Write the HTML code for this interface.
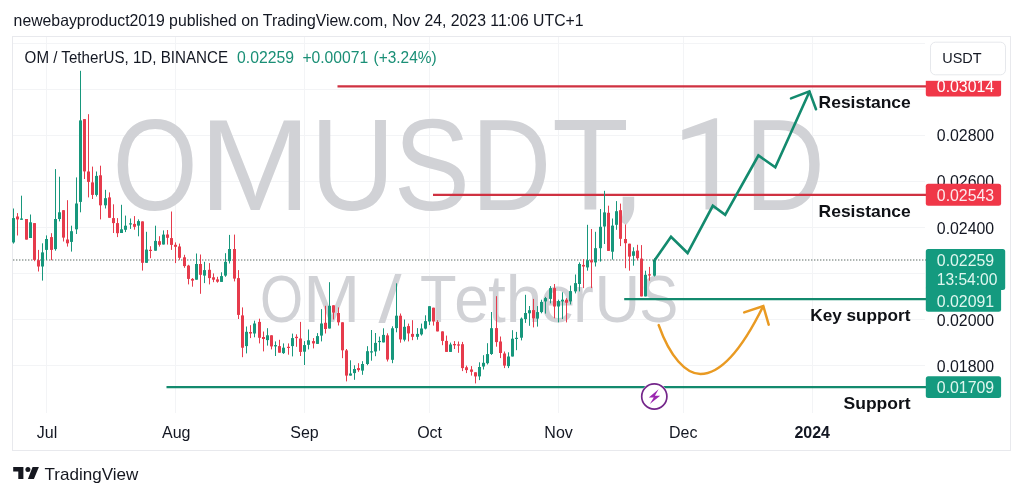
<!DOCTYPE html>
<html><head><meta charset="utf-8"><title>OMUSDT 1D</title>
<style>html,body{margin:0;padding:0;background:#fff;}body{width:1024px;height:496px;overflow:hidden;font-family:"Liberation Sans",sans-serif;}svg{display:block;will-change:transform;}text{font-family:"Liberation Sans",sans-serif;}</style>
</head><body>
<svg width="1024" height="496" viewBox="0 0 1024 496">
<rect x="0" y="0" width="1024" height="496" fill="#ffffff"/>
<rect x="12.5" y="36.5" width="998" height="414" fill="#ffffff" stroke="#e8e9ed" stroke-width="1"/>
<g stroke="#f3f4f6" stroke-width="1" shape-rendering="crispEdges">
<line x1="13" y1="43.5" x2="925" y2="43.5"/>
<line x1="13" y1="89.5" x2="925" y2="89.5"/>
<line x1="13" y1="135.5" x2="925" y2="135.5"/>
<line x1="13" y1="181.5" x2="925" y2="181.5"/>
<line x1="13" y1="227.5" x2="925" y2="227.5"/>
<line x1="13" y1="273.5" x2="925" y2="273.5"/>
<line x1="13" y1="319.5" x2="925" y2="319.5"/>
<line x1="13" y1="365.5" x2="925" y2="365.5"/>
<line x1="46.5" y1="37" x2="46.5" y2="413"/>
<line x1="175.5" y1="37" x2="175.5" y2="413"/>
<line x1="304.5" y1="37" x2="304.5" y2="413"/>
<line x1="429.5" y1="37" x2="429.5" y2="413"/>
<line x1="558.5" y1="37" x2="558.5" y2="413"/>
<line x1="683.5" y1="37" x2="683.5" y2="413"/>
<line x1="812.5" y1="37" x2="812.5" y2="413"/>
</g>
<g fill="#d1d2d6" id="wm1">
<text transform="translate(112.48 209.50) scale(0.8698 1.0368)" font-size="126">O</text>
<text transform="translate(198.93 209.50) scale(1.0671 1.0368)" font-size="126">M</text>
<text transform="translate(310.29 209.50) scale(0.9310 1.0368)" font-size="126">U</text>
<text transform="translate(393.75 209.50) scale(0.9083 1.0368)" font-size="126">S</text>
<text transform="translate(471.30 209.50) scale(0.8800 1.0368)" font-size="126">D</text>
<text transform="translate(552.00 209.50) scale(0.9986 1.0368)" font-size="126">T</text>
<text transform="translate(744.69 209.50) scale(0.8813 1.0368)" font-size="126">D</text>
<path d="M717.1 118.2 V209.5 H705.5 V133.2 L682.3 139.9 V130 L714.5 118.2 Z"/>
<path d="M622.7 196.8 H634.2 V206.5 C634.2 213.5 630.5 220.5 626 225 L620.3 221.2 C623.2 216.5 622.7 211 622.7 206.5 Z"/>
</g>
<g fill="#d1d2d6" id="wm2">
<text transform="translate(259.90 321.90) scale(0.8659 1.0432)" font-size="64">O</text>
<text transform="translate(303.36 321.90) scale(1.0674 1.0432)" font-size="64">M</text>
<text transform="translate(378.40 321.90) scale(1.2944 1.0432)" font-size="64">/</text>
<text transform="translate(420.06 321.90) scale(0.9351 1.0432)" font-size="64">T</text>
<text transform="translate(454.27 321.90) scale(0.9767 1.0432)" font-size="64">e</text>
<text transform="translate(488.00 321.90) scale(1.0000 1.0432)" font-size="64">t</text>
<text transform="translate(505.70 321.90) scale(1.0250 1.0432)" font-size="64">h</text>
<text transform="translate(540.35 321.90) scale(0.9833 1.0432)" font-size="64">e</text>
<text transform="translate(573.35 321.90) scale(0.9625 1.0432)" font-size="64">r</text>
<text transform="translate(594.46 321.90) scale(0.9889 1.0432)" font-size="64">U</text>
<text transform="translate(639.26 321.90) scale(0.9135 1.0432)" font-size="64">S</text>
</g>
<line x1="13" y1="260" x2="926" y2="260" stroke="#929c98" stroke-width="1.3" stroke-dasharray="1.4 1.6"/>
<line x1="337.5" y1="86.3" x2="928" y2="86.3" stroke="#cf3141" stroke-width="2.2"/>
<line x1="433" y1="194.8" x2="928" y2="194.8" stroke="#cf3141" stroke-width="2.2"/>
<line x1="624.2" y1="299.1" x2="928" y2="299.1" stroke="#138a6e" stroke-width="2.2"/>
<line x1="166.5" y1="387.2" x2="928" y2="387.2" stroke="#138a6e" stroke-width="2.2"/>
<g id="candles">
<path d="M13.50 208.5V243.6" stroke="#17977c" stroke-width="1" fill="none"/>
<rect x="12.00" y="218.1" width="3" height="24.3" fill="#17977c"/>
<path d="M17.50 213.1V235.5" stroke="#e63b4c" stroke-width="1" fill="none"/>
<rect x="16.00" y="216.5" width="3" height="2.9" fill="#e63b4c"/>
<path d="M21.50 195.7V219.8" stroke="#17977c" stroke-width="1" fill="none"/>
<rect x="20.00" y="218.5" width="3" height="1.3" fill="#17977c"/>
<path d="M26.50 219.0V239.6" stroke="#e63b4c" stroke-width="1" fill="none"/>
<rect x="25.00" y="219.0" width="3" height="20.6" fill="#e63b4c"/>
<path d="M30.50 214.5V238.0" stroke="#17977c" stroke-width="1" fill="none"/>
<rect x="29.00" y="222.3" width="3" height="15.7" fill="#17977c"/>
<path d="M34.50 223.1V261.2" stroke="#e63b4c" stroke-width="1" fill="none"/>
<rect x="33.00" y="223.1" width="3" height="36.8" fill="#e63b4c"/>
<path d="M38.50 249.9V271.5" stroke="#e63b4c" stroke-width="1" fill="none"/>
<rect x="37.00" y="260.2" width="3" height="6.3" fill="#e63b4c"/>
<path d="M42.50 243.3V280.6" stroke="#17977c" stroke-width="1" fill="none"/>
<rect x="41.00" y="252.4" width="3" height="14.1" fill="#17977c"/>
<path d="M46.50 235.4V259.9" stroke="#17977c" stroke-width="1" fill="none"/>
<rect x="45.00" y="239.0" width="3" height="10.9" fill="#17977c"/>
<path d="M51.50 233.2V260.2" stroke="#e63b4c" stroke-width="1" fill="none"/>
<rect x="50.00" y="237.1" width="3" height="12.8" fill="#e63b4c"/>
<path d="M55.50 169.1V250.7" stroke="#17977c" stroke-width="1" fill="none"/>
<rect x="54.00" y="219.0" width="3" height="30.1" fill="#17977c"/>
<path d="M59.50 176.7V221.4" stroke="#17977c" stroke-width="1" fill="none"/>
<rect x="58.00" y="212.3" width="3" height="6.7" fill="#17977c"/>
<path d="M63.50 210.2V241.5" stroke="#e63b4c" stroke-width="1" fill="none"/>
<rect x="62.00" y="210.2" width="3" height="27.4" fill="#e63b4c"/>
<path d="M67.50 200.2V246.6" stroke="#e63b4c" stroke-width="1" fill="none"/>
<rect x="66.00" y="239.5" width="3" height="3.8" fill="#e63b4c"/>
<path d="M71.50 225.7V251.6" stroke="#17977c" stroke-width="1" fill="none"/>
<rect x="70.00" y="231.2" width="3" height="10.7" fill="#17977c"/>
<path d="M76.50 177.4V234.0" stroke="#17977c" stroke-width="1" fill="none"/>
<rect x="75.00" y="203.5" width="3" height="25.8" fill="#17977c"/>
<path d="M80.50 70.8V212.3" stroke="#17977c" stroke-width="1" fill="none"/>
<rect x="79.00" y="120.4" width="3" height="81.5" fill="#17977c"/>
<path d="M84.50 119.0V179.0" stroke="#e63b4c" stroke-width="1" fill="none"/>
<rect x="83.00" y="119.1" width="3" height="52.3" fill="#e63b4c"/>
<path d="M88.50 114.2V197.4" stroke="#e63b4c" stroke-width="1" fill="none"/>
<rect x="87.00" y="171.5" width="3" height="10.4" fill="#e63b4c"/>
<path d="M92.50 166.6V199.0" stroke="#e63b4c" stroke-width="1" fill="none"/>
<rect x="91.00" y="182.4" width="3" height="12.5" fill="#e63b4c"/>
<path d="M96.50 171.5V196.5" stroke="#17977c" stroke-width="1" fill="none"/>
<rect x="95.00" y="175.9" width="3" height="19.0" fill="#17977c"/>
<path d="M100.50 165.7V219.4" stroke="#e63b4c" stroke-width="1" fill="none"/>
<rect x="99.00" y="175.3" width="3" height="30.0" fill="#e63b4c"/>
<path d="M105.50 189.8V208.5" stroke="#17977c" stroke-width="1" fill="none"/>
<rect x="104.00" y="198.2" width="3" height="7.1" fill="#17977c"/>
<path d="M109.50 192.4V217.8" stroke="#e63b4c" stroke-width="1" fill="none"/>
<rect x="108.00" y="197.4" width="3" height="20.4" fill="#e63b4c"/>
<path d="M113.50 204.3V233.0" stroke="#e63b4c" stroke-width="1" fill="none"/>
<rect x="112.00" y="218.1" width="3" height="5.0" fill="#e63b4c"/>
<path d="M117.50 218.1V237.1" stroke="#e63b4c" stroke-width="1" fill="none"/>
<rect x="116.00" y="223.1" width="3" height="10.1" fill="#e63b4c"/>
<path d="M121.50 204.8V233.0" stroke="#17977c" stroke-width="1" fill="none"/>
<rect x="120.00" y="229.3" width="3" height="3.7" fill="#17977c"/>
<path d="M125.50 215.6V232.1" stroke="#17977c" stroke-width="1" fill="none"/>
<rect x="124.00" y="225.7" width="3" height="4.1" fill="#17977c"/>
<path d="M130.50 218.5V228.9" stroke="#17977c" stroke-width="1" fill="none"/>
<rect x="129.00" y="223.3" width="3" height="1.2" fill="#17977c"/>
<path d="M134.50 216.1V229.7" stroke="#e63b4c" stroke-width="1" fill="none"/>
<rect x="133.00" y="223.9" width="3" height="2.9" fill="#e63b4c"/>
<path d="M138.50 219.4V236.3" stroke="#17977c" stroke-width="1" fill="none"/>
<rect x="137.00" y="221.1" width="3" height="4.5" fill="#17977c"/>
<path d="M142.50 221.4V270.6" stroke="#e63b4c" stroke-width="1" fill="none"/>
<rect x="141.00" y="221.4" width="3" height="41.4" fill="#e63b4c"/>
<path d="M146.50 231.8V262.8" stroke="#17977c" stroke-width="1" fill="none"/>
<rect x="145.00" y="249.6" width="3" height="13.2" fill="#17977c"/>
<path d="M150.50 246.2V258.2" stroke="#e63b4c" stroke-width="1" fill="none"/>
<rect x="149.00" y="249.8" width="3" height="1.2" fill="#e63b4c"/>
<path d="M155.50 225.7V250.7" stroke="#17977c" stroke-width="1" fill="none"/>
<rect x="154.00" y="240.9" width="3" height="9.8" fill="#17977c"/>
<path d="M159.50 236.2V246.6" stroke="#e63b4c" stroke-width="1" fill="none"/>
<rect x="158.00" y="241.2" width="3" height="3.6" fill="#e63b4c"/>
<path d="M163.50 230.4V244.5" stroke="#17977c" stroke-width="1" fill="none"/>
<rect x="162.00" y="234.6" width="3" height="9.9" fill="#17977c"/>
<path d="M167.50 230.0V244.6" stroke="#e63b4c" stroke-width="1" fill="none"/>
<rect x="166.00" y="234.5" width="3" height="3.3" fill="#e63b4c"/>
<path d="M171.50 211.5V249.9" stroke="#e63b4c" stroke-width="1" fill="none"/>
<rect x="170.00" y="238.1" width="3" height="6.8" fill="#e63b4c"/>
<path d="M175.50 242.4V263.1" stroke="#e63b4c" stroke-width="1" fill="none"/>
<rect x="174.00" y="244.8" width="3" height="2.0" fill="#e63b4c"/>
<path d="M179.50 243.6V259.8" stroke="#e63b4c" stroke-width="1" fill="none"/>
<rect x="178.00" y="246.5" width="3" height="11.3" fill="#e63b4c"/>
<path d="M184.50 254.8V267.8" stroke="#e63b4c" stroke-width="1" fill="none"/>
<rect x="183.00" y="257.3" width="3" height="8.8" fill="#e63b4c"/>
<path d="M188.50 264.8V284.4" stroke="#e63b4c" stroke-width="1" fill="none"/>
<rect x="187.00" y="265.6" width="3" height="13.3" fill="#e63b4c"/>
<path d="M192.50 278.1V286.7" stroke="#e63b4c" stroke-width="1" fill="none"/>
<rect x="191.00" y="278.9" width="3" height="1.7" fill="#e63b4c"/>
<path d="M196.50 253.5V279.7" stroke="#17977c" stroke-width="1" fill="none"/>
<rect x="195.00" y="264.0" width="3" height="15.7" fill="#17977c"/>
<path d="M200.50 254.5V293.8" stroke="#e63b4c" stroke-width="1" fill="none"/>
<rect x="199.00" y="264.0" width="3" height="10.8" fill="#e63b4c"/>
<path d="M204.50 261.8V283.1" stroke="#17977c" stroke-width="1" fill="none"/>
<rect x="203.00" y="270.1" width="3" height="5.5" fill="#17977c"/>
<path d="M209.50 263.1V284.4" stroke="#e63b4c" stroke-width="1" fill="none"/>
<rect x="208.00" y="269.8" width="3" height="8.3" fill="#e63b4c"/>
<path d="M213.50 273.4V282.2" stroke="#e63b4c" stroke-width="1" fill="none"/>
<rect x="212.00" y="277.3" width="3" height="2.4" fill="#e63b4c"/>
<path d="M217.50 276.8V282.7" stroke="#e63b4c" stroke-width="1" fill="none"/>
<rect x="216.00" y="279.4" width="3" height="2.3" fill="#e63b4c"/>
<path d="M221.50 272.3V281.9" stroke="#17977c" stroke-width="1" fill="none"/>
<rect x="220.00" y="276.1" width="3" height="5.8" fill="#17977c"/>
<path d="M225.50 253.2V276.8" stroke="#17977c" stroke-width="1" fill="none"/>
<rect x="224.00" y="261.8" width="3" height="13.8" fill="#17977c"/>
<path d="M229.50 234.9V263.5" stroke="#17977c" stroke-width="1" fill="none"/>
<rect x="228.00" y="249.0" width="3" height="12.1" fill="#17977c"/>
<path d="M234.50 234.6V281.4" stroke="#e63b4c" stroke-width="1" fill="none"/>
<rect x="233.00" y="249.0" width="3" height="29.6" fill="#e63b4c"/>
<path d="M238.50 270.1V319.0" stroke="#e63b4c" stroke-width="1" fill="none"/>
<rect x="237.00" y="278.1" width="3" height="36.8" fill="#e63b4c"/>
<path d="M242.50 307.4V357.2" stroke="#e63b4c" stroke-width="1" fill="none"/>
<rect x="241.00" y="315.4" width="3" height="32.3" fill="#e63b4c"/>
<path d="M246.50 326.5V353.4" stroke="#17977c" stroke-width="1" fill="none"/>
<rect x="245.00" y="331.8" width="3" height="14.3" fill="#17977c"/>
<path d="M250.50 325.2V338.1" stroke="#e63b4c" stroke-width="1" fill="none"/>
<rect x="249.00" y="332.0" width="3" height="1.5" fill="#e63b4c"/>
<path d="M254.50 320.7V337.3" stroke="#17977c" stroke-width="1" fill="none"/>
<rect x="253.00" y="323.5" width="3" height="10.0" fill="#17977c"/>
<path d="M259.50 318.7V343.4" stroke="#e63b4c" stroke-width="1" fill="none"/>
<rect x="258.00" y="321.9" width="3" height="15.9" fill="#e63b4c"/>
<path d="M263.50 331.5V351.4" stroke="#e63b4c" stroke-width="1" fill="none"/>
<rect x="262.00" y="337.0" width="3" height="2.0" fill="#e63b4c"/>
<path d="M267.50 328.2V345.6" stroke="#17977c" stroke-width="1" fill="none"/>
<rect x="266.00" y="335.3" width="3" height="4.8" fill="#17977c"/>
<path d="M271.50 335.3V349.4" stroke="#e63b4c" stroke-width="1" fill="none"/>
<rect x="270.00" y="335.3" width="3" height="11.1" fill="#e63b4c"/>
<path d="M275.50 341.4V356.0" stroke="#17977c" stroke-width="1" fill="none"/>
<rect x="274.00" y="345.1" width="3" height="1.3" fill="#17977c"/>
<path d="M279.50 339.8V352.7" stroke="#e63b4c" stroke-width="1" fill="none"/>
<rect x="278.00" y="346.1" width="3" height="6.6" fill="#e63b4c"/>
<path d="M283.50 343.4V353.9" stroke="#17977c" stroke-width="1" fill="none"/>
<rect x="282.00" y="347.7" width="3" height="5.4" fill="#17977c"/>
<path d="M288.50 343.4V354.7" stroke="#e63b4c" stroke-width="1" fill="none"/>
<rect x="287.00" y="346.8" width="3" height="1.2" fill="#e63b4c"/>
<path d="M292.50 333.6V356.4" stroke="#17977c" stroke-width="1" fill="none"/>
<rect x="291.00" y="338.1" width="3" height="8.0" fill="#17977c"/>
<path d="M296.50 334.3V346.8" stroke="#e63b4c" stroke-width="1" fill="none"/>
<rect x="295.00" y="336.8" width="3" height="1.3" fill="#e63b4c"/>
<path d="M300.50 321.9V356.0" stroke="#e63b4c" stroke-width="1" fill="none"/>
<rect x="299.00" y="338.5" width="3" height="13.4" fill="#e63b4c"/>
<path d="M304.50 341.1V365.0" stroke="#17977c" stroke-width="1" fill="none"/>
<rect x="303.00" y="345.1" width="3" height="6.6" fill="#17977c"/>
<path d="M308.50 329.5V349.4" stroke="#17977c" stroke-width="1" fill="none"/>
<rect x="307.00" y="340.3" width="3" height="4.5" fill="#17977c"/>
<path d="M313.50 338.1V348.4" stroke="#e63b4c" stroke-width="1" fill="none"/>
<rect x="312.00" y="341.1" width="3" height="2.3" fill="#e63b4c"/>
<path d="M317.50 333.1V343.9" stroke="#17977c" stroke-width="1" fill="none"/>
<rect x="316.00" y="336.1" width="3" height="7.8" fill="#17977c"/>
<path d="M321.50 309.1V341.4" stroke="#17977c" stroke-width="1" fill="none"/>
<rect x="320.00" y="323.5" width="3" height="12.1" fill="#17977c"/>
<path d="M325.50 305.8V333.5" stroke="#e63b4c" stroke-width="1" fill="none"/>
<rect x="324.00" y="322.8" width="3" height="6.2" fill="#e63b4c"/>
<path d="M329.50 282.2V328.5" stroke="#17977c" stroke-width="1" fill="none"/>
<rect x="328.00" y="305.8" width="3" height="22.7" fill="#17977c"/>
<path d="M333.50 305.3V319.5" stroke="#e63b4c" stroke-width="1" fill="none"/>
<rect x="332.00" y="305.3" width="3" height="7.3" fill="#e63b4c"/>
<path d="M338.50 307.4V325.5" stroke="#e63b4c" stroke-width="1" fill="none"/>
<rect x="337.00" y="313.0" width="3" height="9.3" fill="#e63b4c"/>
<path d="M342.50 322.3V358.2" stroke="#e63b4c" stroke-width="1" fill="none"/>
<rect x="341.00" y="322.3" width="3" height="28.0" fill="#e63b4c"/>
<path d="M346.50 349.0V381.4" stroke="#e63b4c" stroke-width="1" fill="none"/>
<rect x="345.00" y="350.4" width="3" height="25.2" fill="#e63b4c"/>
<path d="M350.50 360.3V375.6" stroke="#17977c" stroke-width="1" fill="none"/>
<rect x="349.00" y="373.5" width="3" height="2.1" fill="#17977c"/>
<path d="M354.50 365.3V379.8" stroke="#17977c" stroke-width="1" fill="none"/>
<rect x="353.00" y="369.0" width="3" height="4.1" fill="#17977c"/>
<path d="M358.50 363.2V371.8" stroke="#e63b4c" stroke-width="1" fill="none"/>
<rect x="357.00" y="368.1" width="3" height="2.0" fill="#e63b4c"/>
<path d="M362.50 361.2V374.8" stroke="#17977c" stroke-width="1" fill="none"/>
<rect x="361.00" y="364.0" width="3" height="6.6" fill="#17977c"/>
<path d="M367.50 346.2V365.2" stroke="#17977c" stroke-width="1" fill="none"/>
<rect x="366.00" y="351.2" width="3" height="12.8" fill="#17977c"/>
<path d="M371.50 330.0V360.7" stroke="#17977c" stroke-width="1" fill="none"/>
<rect x="370.00" y="351.3" width="3" height="1.2" fill="#17977c"/>
<path d="M375.50 333.0V356.2" stroke="#17977c" stroke-width="1" fill="none"/>
<rect x="374.00" y="342.9" width="3" height="8.6" fill="#17977c"/>
<path d="M379.50 336.6V350.7" stroke="#17977c" stroke-width="1" fill="none"/>
<rect x="378.00" y="340.9" width="3" height="1.2" fill="#17977c"/>
<path d="M383.50 328.3V342.4" stroke="#17977c" stroke-width="1" fill="none"/>
<rect x="382.00" y="334.9" width="3" height="7.5" fill="#17977c"/>
<path d="M387.50 333.3V361.5" stroke="#e63b4c" stroke-width="1" fill="none"/>
<rect x="386.00" y="335.4" width="3" height="24.1" fill="#e63b4c"/>
<path d="M392.50 326.3V363.2" stroke="#17977c" stroke-width="1" fill="none"/>
<rect x="391.00" y="328.3" width="3" height="31.5" fill="#17977c"/>
<path d="M396.50 283.3V332.3" stroke="#17977c" stroke-width="1" fill="none"/>
<rect x="395.00" y="315.7" width="3" height="12.4" fill="#17977c"/>
<path d="M400.50 313.5V342.7" stroke="#e63b4c" stroke-width="1" fill="none"/>
<rect x="399.00" y="315.7" width="3" height="23.7" fill="#e63b4c"/>
<path d="M404.50 319.5V341.4" stroke="#17977c" stroke-width="1" fill="none"/>
<rect x="403.00" y="326.8" width="3" height="12.9" fill="#17977c"/>
<path d="M408.50 323.6V341.4" stroke="#e63b4c" stroke-width="1" fill="none"/>
<rect x="407.00" y="326.1" width="3" height="7.3" fill="#e63b4c"/>
<path d="M412.50 320.2V340.2" stroke="#e63b4c" stroke-width="1" fill="none"/>
<rect x="411.00" y="333.9" width="3" height="2.9" fill="#e63b4c"/>
<path d="M417.50 328.1V339.7" stroke="#17977c" stroke-width="1" fill="none"/>
<rect x="416.00" y="333.9" width="3" height="2.9" fill="#17977c"/>
<path d="M421.50 323.6V335.6" stroke="#17977c" stroke-width="1" fill="none"/>
<rect x="420.00" y="328.5" width="3" height="5.9" fill="#17977c"/>
<path d="M425.50 315.3V329.4" stroke="#17977c" stroke-width="1" fill="none"/>
<rect x="424.00" y="321.1" width="3" height="7.5" fill="#17977c"/>
<path d="M429.50 306.2V325.1" stroke="#17977c" stroke-width="1" fill="none"/>
<rect x="428.00" y="306.2" width="3" height="15.3" fill="#17977c"/>
<path d="M433.50 307.7V325.6" stroke="#e63b4c" stroke-width="1" fill="none"/>
<rect x="432.00" y="307.7" width="3" height="13.8" fill="#e63b4c"/>
<path d="M437.50 320.2V331.4" stroke="#e63b4c" stroke-width="1" fill="none"/>
<rect x="436.00" y="322.0" width="3" height="9.4" fill="#e63b4c"/>
<path d="M442.50 331.4V345.2" stroke="#e63b4c" stroke-width="1" fill="none"/>
<rect x="441.00" y="331.4" width="3" height="9.5" fill="#e63b4c"/>
<path d="M446.50 335.6V351.9" stroke="#e63b4c" stroke-width="1" fill="none"/>
<rect x="445.00" y="340.9" width="3" height="11.0" fill="#e63b4c"/>
<path d="M450.50 342.6V351.9" stroke="#17977c" stroke-width="1" fill="none"/>
<rect x="449.00" y="344.5" width="3" height="7.4" fill="#17977c"/>
<path d="M454.50 341.1V349.0" stroke="#e63b4c" stroke-width="1" fill="none"/>
<rect x="453.00" y="344.0" width="3" height="1.3" fill="#e63b4c"/>
<path d="M458.50 341.5V352.8" stroke="#e63b4c" stroke-width="1" fill="none"/>
<rect x="457.00" y="344.4" width="3" height="1.2" fill="#e63b4c"/>
<path d="M462.50 341.9V371.1" stroke="#e63b4c" stroke-width="1" fill="none"/>
<rect x="461.00" y="344.2" width="3" height="23.9" fill="#e63b4c"/>
<path d="M466.50 365.6V373.1" stroke="#e63b4c" stroke-width="1" fill="none"/>
<rect x="465.00" y="367.3" width="3" height="2.8" fill="#e63b4c"/>
<path d="M471.50 366.1V375.6" stroke="#e63b4c" stroke-width="1" fill="none"/>
<rect x="470.00" y="369.5" width="3" height="2.3" fill="#e63b4c"/>
<path d="M475.50 372.3V383.4" stroke="#e63b4c" stroke-width="1" fill="none"/>
<rect x="474.00" y="372.3" width="3" height="4.1" fill="#e63b4c"/>
<path d="M479.50 362.3V380.1" stroke="#17977c" stroke-width="1" fill="none"/>
<rect x="478.00" y="367.0" width="3" height="9.4" fill="#17977c"/>
<path d="M483.50 355.2V369.5" stroke="#17977c" stroke-width="1" fill="none"/>
<rect x="482.00" y="362.8" width="3" height="3.7" fill="#17977c"/>
<path d="M487.50 343.2V364.5" stroke="#17977c" stroke-width="1" fill="none"/>
<rect x="486.00" y="354.1" width="3" height="9.1" fill="#17977c"/>
<path d="M491.50 312.0V354.9" stroke="#17977c" stroke-width="1" fill="none"/>
<rect x="490.00" y="328.2" width="3" height="25.8" fill="#17977c"/>
<path d="M496.50 296.2V346.7" stroke="#e63b4c" stroke-width="1" fill="none"/>
<rect x="495.00" y="328.1" width="3" height="14.0" fill="#e63b4c"/>
<path d="M500.50 336.5V358.1" stroke="#e63b4c" stroke-width="1" fill="none"/>
<rect x="499.00" y="341.5" width="3" height="11.5" fill="#e63b4c"/>
<path d="M504.50 351.5V368.1" stroke="#e63b4c" stroke-width="1" fill="none"/>
<rect x="503.00" y="353.5" width="3" height="12.1" fill="#e63b4c"/>
<path d="M508.50 352.3V368.1" stroke="#17977c" stroke-width="1" fill="none"/>
<rect x="507.00" y="356.5" width="3" height="9.6" fill="#17977c"/>
<path d="M512.50 330.2V356.5" stroke="#17977c" stroke-width="1" fill="none"/>
<rect x="511.00" y="338.7" width="3" height="17.8" fill="#17977c"/>
<path d="M516.50 331.9V350.2" stroke="#17977c" stroke-width="1" fill="none"/>
<rect x="515.00" y="337.8" width="3" height="1.2" fill="#17977c"/>
<path d="M521.50 317.5V340.4" stroke="#17977c" stroke-width="1" fill="none"/>
<rect x="520.00" y="318.6" width="3" height="19.1" fill="#17977c"/>
<path d="M525.50 294.8V322.9" stroke="#17977c" stroke-width="1" fill="none"/>
<rect x="524.00" y="313.0" width="3" height="6.1" fill="#17977c"/>
<path d="M529.50 306.0V325.8" stroke="#17977c" stroke-width="1" fill="none"/>
<rect x="528.00" y="310.2" width="3" height="3.1" fill="#17977c"/>
<path d="M533.50 298.9V327.4" stroke="#e63b4c" stroke-width="1" fill="none"/>
<rect x="532.00" y="310.1" width="3" height="8.2" fill="#e63b4c"/>
<path d="M537.50 306.1V326.6" stroke="#17977c" stroke-width="1" fill="none"/>
<rect x="536.00" y="312.1" width="3" height="6.5" fill="#17977c"/>
<path d="M541.50 299.7V313.3" stroke="#17977c" stroke-width="1" fill="none"/>
<rect x="540.00" y="301.9" width="3" height="10.2" fill="#17977c"/>
<path d="M545.50 296.9V313.6" stroke="#17977c" stroke-width="1" fill="none"/>
<rect x="544.00" y="298.1" width="3" height="3.3" fill="#17977c"/>
<path d="M550.50 286.1V303.4" stroke="#17977c" stroke-width="1" fill="none"/>
<rect x="549.00" y="288.1" width="3" height="10.8" fill="#17977c"/>
<path d="M554.50 284.0V318.3" stroke="#e63b4c" stroke-width="1" fill="none"/>
<rect x="553.00" y="288.1" width="3" height="18.4" fill="#e63b4c"/>
<path d="M558.50 299.7V322.4" stroke="#17977c" stroke-width="1" fill="none"/>
<rect x="557.00" y="301.1" width="3" height="5.4" fill="#17977c"/>
<path d="M562.50 292.3V319.1" stroke="#17977c" stroke-width="1" fill="none"/>
<rect x="561.00" y="299.7" width="3" height="1.7" fill="#17977c"/>
<path d="M566.50 298.1V322.4" stroke="#e63b4c" stroke-width="1" fill="none"/>
<rect x="565.00" y="299.7" width="3" height="3.0" fill="#e63b4c"/>
<path d="M570.50 285.6V304.4" stroke="#17977c" stroke-width="1" fill="none"/>
<rect x="569.00" y="291.1" width="3" height="10.3" fill="#17977c"/>
<path d="M575.50 274.5V293.4" stroke="#17977c" stroke-width="1" fill="none"/>
<rect x="574.00" y="283.1" width="3" height="8.3" fill="#17977c"/>
<path d="M579.50 262.4V291.4" stroke="#17977c" stroke-width="1" fill="none"/>
<rect x="578.00" y="264.0" width="3" height="20.0" fill="#17977c"/>
<path d="M583.50 259.1V288.1" stroke="#e63b4c" stroke-width="1" fill="none"/>
<rect x="582.00" y="264.9" width="3" height="1.6" fill="#e63b4c"/>
<path d="M587.50 224.8V270.7" stroke="#17977c" stroke-width="1" fill="none"/>
<rect x="586.00" y="260.2" width="3" height="7.2" fill="#17977c"/>
<path d="M591.50 229.0V288.1" stroke="#e63b4c" stroke-width="1" fill="none"/>
<rect x="590.00" y="260.2" width="3" height="2.2" fill="#e63b4c"/>
<path d="M595.50 231.8V266.5" stroke="#17977c" stroke-width="1" fill="none"/>
<rect x="594.00" y="248.2" width="3" height="14.2" fill="#17977c"/>
<path d="M600.50 209.0V261.6" stroke="#17977c" stroke-width="1" fill="none"/>
<rect x="599.00" y="226.8" width="3" height="21.4" fill="#17977c"/>
<path d="M604.50 190.8V244.0" stroke="#17977c" stroke-width="1" fill="none"/>
<rect x="603.00" y="212.4" width="3" height="14.1" fill="#17977c"/>
<path d="M608.50 205.7V250.9" stroke="#e63b4c" stroke-width="1" fill="none"/>
<rect x="607.00" y="212.8" width="3" height="38.1" fill="#e63b4c"/>
<path d="M612.50 218.5V259.6" stroke="#17977c" stroke-width="1" fill="none"/>
<rect x="611.00" y="225.6" width="3" height="26.1" fill="#17977c"/>
<path d="M616.50 201.1V229.8" stroke="#17977c" stroke-width="1" fill="none"/>
<rect x="615.00" y="211.2" width="3" height="13.6" fill="#17977c"/>
<path d="M620.50 203.6V246.1" stroke="#e63b4c" stroke-width="1" fill="none"/>
<rect x="619.00" y="210.2" width="3" height="28.6" fill="#e63b4c"/>
<path d="M625.50 224.5V268.2" stroke="#e63b4c" stroke-width="1" fill="none"/>
<rect x="624.00" y="239.0" width="3" height="4.2" fill="#e63b4c"/>
<path d="M629.50 243.7V270.7" stroke="#e63b4c" stroke-width="1" fill="none"/>
<rect x="628.00" y="243.7" width="3" height="12.9" fill="#e63b4c"/>
<path d="M633.50 247.3V265.7" stroke="#17977c" stroke-width="1" fill="none"/>
<rect x="632.00" y="251.3" width="3" height="4.5" fill="#17977c"/>
<path d="M637.50 244.8V260.2" stroke="#e63b4c" stroke-width="1" fill="none"/>
<rect x="636.00" y="250.6" width="3" height="7.6" fill="#e63b4c"/>
<path d="M641.50 245.1V296.4" stroke="#e63b4c" stroke-width="1" fill="none"/>
<rect x="640.00" y="258.6" width="3" height="37.8" fill="#e63b4c"/>
<path d="M645.50 270.7V296.4" stroke="#17977c" stroke-width="1" fill="none"/>
<rect x="644.00" y="274.8" width="3" height="21.6" fill="#17977c"/>
<path d="M649.50 266.9V280.7" stroke="#e63b4c" stroke-width="1" fill="none"/>
<rect x="648.00" y="274.3" width="3" height="1.2" fill="#e63b4c"/>
<path d="M654.50 258.2V276.5" stroke="#17977c" stroke-width="1" fill="none"/>
<rect x="653.00" y="259.9" width="3" height="15.8" fill="#17977c"/>
</g>
<path d="M654.1 261 L671 236.8 L687.6 253 L712.8 205.8 L725.2 214.9 L758.4 155.5 L775.3 167.2 L809.3 92" fill="none" stroke="#138a6e" stroke-width="2.6" stroke-linejoin="miter" stroke-linecap="round"/>
<path d="M791 98.4 L809.4 91.4 L816 109.2" fill="none" stroke="#138a6e" stroke-width="2.6" stroke-linejoin="miter" stroke-linecap="round"/>
<path d="M658.7 325.1 C670 357 686 374 700.4 374 C722 374 744 345 763 306.5" fill="none" stroke="#e99a22" stroke-width="2.5" stroke-linecap="round"/>
<path d="M744.2 312.4 L763.3 306 L768.7 324.6" fill="none" stroke="#e99a22" stroke-width="2.5" stroke-linejoin="miter" stroke-linecap="round"/>
<circle cx="654.3" cy="396.5" r="13.7" fill="#ffffff"/>
<circle cx="654.3" cy="396.5" r="12.6" fill="#ffffff" stroke="#74268a" stroke-width="1.7"/>
<path d="M658.6 389.3 L648.8 397.4 L653.8 397.4 L649.8 403.9 L660.2 395.8 L654.9 395.8 Z" fill="#9c27b0"/>
<g font-weight="700" fill="#0f1116" font-size="17">
<text x="818.6" y="107.6" textLength="92.2" lengthAdjust="spacingAndGlyphs">Resistance</text>
<text x="818.6" y="216.6" textLength="92.2" lengthAdjust="spacingAndGlyphs">Resistance</text>
<text x="810.3" y="321" textLength="100.2" lengthAdjust="spacingAndGlyphs">Key support</text>
<text x="843.6" y="409.1" textLength="67" lengthAdjust="spacingAndGlyphs">Support</text>
</g>
<g fill="#131722" font-size="16">
<text x="936.8" y="141" textLength="57.4" lengthAdjust="spacingAndGlyphs">0.02800</text>
<text x="936.8" y="187.2" textLength="57.4" lengthAdjust="spacingAndGlyphs">0.02600</text>
<text x="936.8" y="233.9" textLength="57.4" lengthAdjust="spacingAndGlyphs">0.02400</text>
<text x="936.8" y="325.8" textLength="57.4" lengthAdjust="spacingAndGlyphs">0.02000</text>
<text x="936.8" y="371.7" textLength="57.4" lengthAdjust="spacingAndGlyphs">0.01800</text>
</g>
<rect x="925.8" y="75.8" width="75.3" height="20.8" rx="2.5" fill="#f03748"/>
<text x="936.8" y="92.2" font-size="16" fill="#ffffff" textLength="57.4" lengthAdjust="spacingAndGlyphs">0.03014</text>
<rect x="925" y="37" width="85" height="43.8" fill="#ffffff"/>
<rect x="930.5" y="42.2" width="75" height="32.6" rx="5" fill="#ffffff" stroke="#e6e8ec" stroke-width="1"/>
<text x="942.2" y="63.3" font-size="15" fill="#131722" textLength="39.4" lengthAdjust="spacingAndGlyphs">USDT</text>
<rect x="925.8" y="183.8" width="75.3" height="22" rx="2.5" fill="#f03748"/>
<text x="936.8" y="201" font-size="16" fill="#fde9ec" textLength="57.4" lengthAdjust="spacingAndGlyphs">0.02543</text>
<rect x="925.8" y="249.1" width="79.4" height="40.8" rx="2.5" fill="#149a7f"/>
<rect x="925.8" y="286" width="75.3" height="25.8" rx="2.5" fill="#149a7f"/>
<text x="936.8" y="265.8" font-size="16" fill="#dff7ef" textLength="57.4" lengthAdjust="spacingAndGlyphs">0.02259</text>
<text x="936.8" y="284.8" font-size="16" fill="#dff7ef" textLength="60.6" lengthAdjust="spacingAndGlyphs">13:54:00</text>
<text x="936.8" y="307.3" font-size="16" fill="#dff7ef" textLength="57.4" lengthAdjust="spacingAndGlyphs">0.02091</text>
<rect x="925.8" y="376.2" width="75.3" height="21.8" rx="2.5" fill="#149a7f"/>
<text x="936.8" y="393" font-size="16" fill="#dff7ef" textLength="57.4" lengthAdjust="spacingAndGlyphs">0.01709</text>
<g fill="#131722" font-size="16" text-anchor="middle">
<text x="47" y="437.6">Jul</text>
<text x="176.2" y="437.6">Aug</text>
<text x="304.5" y="437.6">Sep</text>
<text x="429.6" y="437.6">Oct</text>
<text x="558.6" y="437.6">Nov</text>
<text x="683.2" y="437.6">Dec</text>
<text x="812.2" y="437.7" font-weight="700">2024</text>
</g>
<text x="13.6" y="26.4" font-size="16.5" fill="#131722" textLength="570" lengthAdjust="spacingAndGlyphs">newebayproduct2019 published on TradingView.com, Nov 24, 2023 11:06 UTC+1</text>
<text x="24.6" y="63" font-size="16.5" fill="#131722" textLength="203.5" lengthAdjust="spacingAndGlyphs">OM / TetherUS, 1D, BINANCE</text>
<text x="237" y="63" font-size="16.5" fill="#1a8f76" textLength="57" lengthAdjust="spacingAndGlyphs">0.02259</text>
<text x="302.4" y="63" font-size="16.5" fill="#1a8f76" textLength="65.8" lengthAdjust="spacingAndGlyphs">+0.00071</text>
<text x="373.6" y="63" font-size="16.5" fill="#1a8f76" textLength="63" lengthAdjust="spacingAndGlyphs">(+3.24%)</text>
<g fill="#15171f">
<path d="M13.2 467 H23.4 V479 H18.3 V471.5 H13.2 Z"/>
<circle cx="27.9" cy="469.5" r="2.5"/>
<path d="M32.6 467 H38.9 L33.9 479 H27.9 Z"/>
</g>
<text x="44.6" y="479.7" font-size="17" fill="#15171f" textLength="93.8" lengthAdjust="spacingAndGlyphs">TradingView</text>
</svg>
</body></html>
